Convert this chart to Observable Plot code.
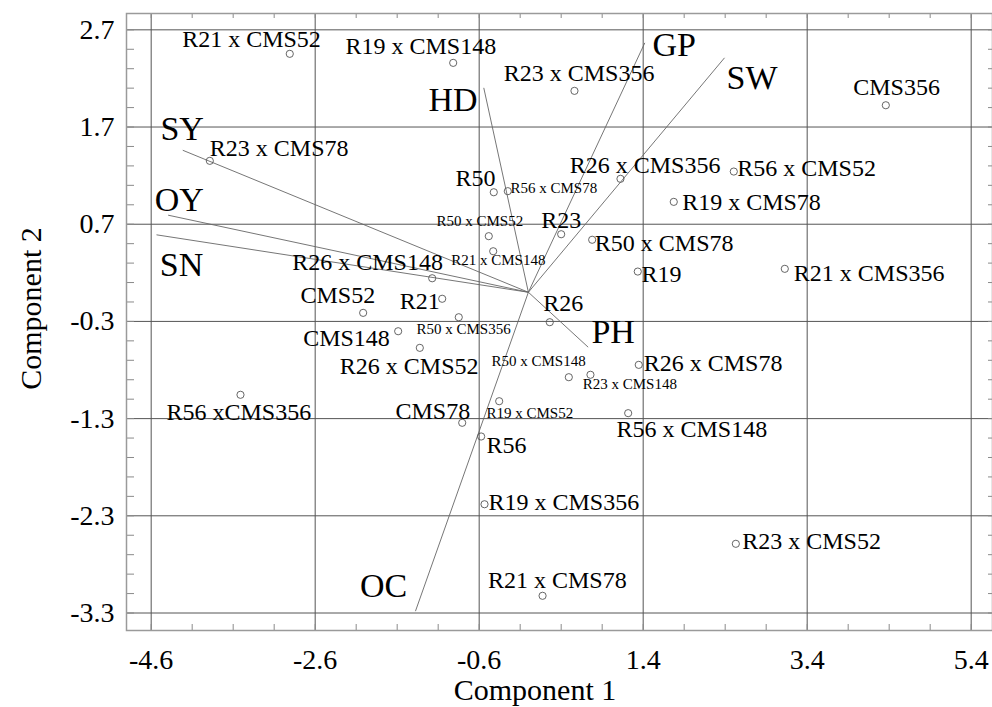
<!DOCTYPE html>
<html><head><meta charset="utf-8">
<script src="https://cdn.jsdelivr.net/npm/d3@7"></script>
<script src="https://cdn.jsdelivr.net/npm/@observablehq/plot@0.6"></script>
<style>html,body{margin:0;padding:0;background:#fff}</style>
</head><body><div id="chart"></div>
<script>
// Genotype scores
const genotypes = ["R21 x CMS52","R19 x CMS148","R23 x CMS356","CMS356","R23 x CMS78","R50","R56 x CMS78","R50 x CMS52","R21 x CMS148","R23","R26 x CMS356","R56 x CMS52","R19 x CMS78","R50 x CMS78","R19","R21 x CMS356","R26 x CMS148","R21","CMS52","CMS148","R50 x CMS356","R26","R26 x CMS52","R50 x CMS148","R23 x CMS148","R26 x CMS78","R19 x CMS52","R56 x CMS148","CMS78","R56","R19 x CMS356","R56 xCMS356","R23 x CMS52","R21 x CMS78"];
const pc1 = [-2.910,-0.917,0.562,4.359,-3.885,-0.422,-0.251,-0.483,-0.429,0.400,1.123,2.505,1.773,0.778,1.334,3.127,-1.173,-1.051,-2.015,-1.588,-0.849,0.261,-1.324,0.493,0.757,1.346,-0.356,1.217,-0.807,-0.576,-0.535,-3.511,2.530,0.173];
const pc2 = [2.453,2.360,2.072,1.924,1.352,1.029,1.040,0.577,0.422,0.597,1.167,1.242,0.930,0.540,0.213,0.241,0.144,-0.067,-0.212,-0.401,-0.257,-0.308,-0.572,-0.874,-0.849,-0.747,-1.121,-1.244,-1.343,-1.484,-2.181,-1.055,-2.588,-3.123];

// Trait loading vectors
const traits = ["SY","OY","SN","HD","GP","SW","PH","OC"];
const traitPc1 = [-4.215,-4.393,-4.535,-0.544,1.420,2.392,0.729,-1.377];
const traitPc2 = [1.461,0.793,0.591,2.103,2.566,2.412,-0.565,-3.281];

// Tick labels
const xTicks = [-4.6,-2.6,-0.6,1.4,3.4,5.4];
const yTicks = [2.7,1.7,0.7,-0.3,-1.3,-2.3,-3.3];
const xTitle = "Component 1";
const yTitle = "Component 2";

// Label placement (pixel offsets from the point, font size)
const labelLayout = {
  "R21 x CMS52": [-107.6,-6.6,24], "R19 x CMS148": [-107.7,-9,24], "R23 x CMS356": [-70.7,-10.3,24],
  "CMS356": [-32.6,-10.7,24], "R23 x CMS78": [0,-4.6,24], "R50": [-38.3,-6,24],
  "R56 x CMS78": [2.7,2,15], "R50 x CMS52": [-52.3,-9.7,15], "R21 x CMS148": [-42,13.3,15],
  "R23": [-20,-6.4,24], "R26 x CMS356": [-50.7,-6,24], "R56 x CMS52": [3.4,4.7,24],
  "R19 x CMS78": [8.4,7.7,24], "R50 x CMS78": [2.6,11.4,24], "R19": [3.7,10.7,24],
  "R21 x CMS356": [9,11.7,24], "R26 x CMS148": [-140,-8.4,24], "R21": [-42.4,10,24],
  "CMS52": [-62.7,-10,24], "CMS148": [-95,15,24], "R50 x CMS356": [-42.3,16.6,15],
  "R26": [-6.6,-11,24], "R26 x CMS52": [-80,26,24], "R50 x CMS148": [-77.3,-11,15],
  "R23 x CMS148": [-7.7,14,15], "R26 x CMS78": [5,6.4,24], "R19 x CMS52": [-12.7,16.6,15],
  "R56 x CMS148": [-11.7,24,24], "CMS78": [-66.7,-4,24], "R56": [5.3,16.3,24],
  "R19 x CMS356": [4,5.6,24], "R56 xCMS356": [-74,25.7,24], "R23 x CMS52": [6.4,5,24],
  "R21 x CMS78": [-54.6,-8,24]
};
const traitLayout = {
  "SY": [-22.3,-10.4], "OY": [-13.4,-4], "SN": [3.3,41], "HD": [-55.3,22.7],
  "GP": [7.7,13.4], "SW": [2,30.7], "PH": [3.3,-4.4], "OC": [-55.4,-13.7]
};

const points = genotypes.map((name, i) => ({name, x: pc1[i], y: pc2[i]}));
const vectors = traits.map((name, i) => ({name, x: traitPc1[i], y: traitPc2[i]}));

const xMinor = d3.range(-4.6, 5.66, 0.5).map(v => +v.toFixed(2));
const yMinor = d3.range(2.7, -3.49, -0.2).map(v => +v.toFixed(2));
const fmt = d => d.toFixed(1);
const tickColor = "#8a8a8a";
const font = "Liberation Serif";

const marks = [
  Plot.gridX({ticks: xTicks, stroke: "#555", strokeOpacity: 1, strokeWidth: 1}),
  Plot.gridY({ticks: yTicks, stroke: "#555", strokeOpacity: 1, strokeWidth: 1}),
  Plot.axisX({anchor: "bottom", ticks: xMinor, tickSize: -6, fill: "none", stroke: tickColor, label: null}),
  Plot.axisX({anchor: "top", ticks: xMinor, tickSize: -4, fill: "none", stroke: tickColor, label: null}),
  Plot.axisY({anchor: "left", ticks: yMinor, tickSize: -8, fill: "none", stroke: tickColor, label: null}),
  Plot.axisY({anchor: "right", ticks: yMinor, tickSize: -5, fill: "none", stroke: tickColor, label: null}),
  Plot.axisX({anchor: "bottom", ticks: xTicks, tickSize: 0, tickPadding: 19, fontSize: 28, tickFormat: fmt, label: null, fill: "black"}),
  Plot.axisY({anchor: "left", ticks: yTicks, tickSize: 0, tickPadding: 12, fontSize: 28, tickFormat: fmt, label: null, fill: "black"}),
  Plot.frame({stroke: "#9a9a9a", strokeWidth: 1.5}),
  Plot.link(vectors, {x1: () => 0, y1: () => 0, x2: "x", y2: "y", stroke: "#666", strokeWidth: 0.9}),
  Plot.dot(points, {x: "x", y: "y", r: 3.6, stroke: "#555", strokeWidth: 0.9, fill: "none"}),
  ...points.map(p => {
    const [dx, dy, size] = labelLayout[p.name];
    return Plot.text([p], {x: "x", y: "y", text: "name", dx, dy, fontSize: size, textAnchor: "start", lineAnchor: "bottom", fill: "black"});
  }),
  ...vectors.map(v => {
    const [dx, dy] = traitLayout[v.name];
    return Plot.text([v], {x: "x", y: "y", text: "name", dx, dy, fontSize: 34, textAnchor: "start", lineAnchor: "bottom", fill: "black"});
  }),
  Plot.text([xTitle], {frameAnchor: "bottom", text: d => d, dx: -24.5, dy: 69, fontSize: 30, lineAnchor: "bottom", textAnchor: "middle", fill: "black"}),
  Plot.text([yTitle], {frameAnchor: "left", text: d => d, dx: -86, dy: -13.5, rotate: -90, fontSize: 30, lineAnchor: "bottom", textAnchor: "middle", fill: "black"})
];

const chart = Plot.plot({
  width: 992,
  height: 707,
  marginLeft: 126,
  marginRight: 0,
  marginTop: 13,
  marginBottom: 77,
  x: {domain: [-4.901, 5.660]},
  y: {domain: [-3.480, 2.868]},
  style: {fontFamily: font, background: "white", color: "black", overflow: "visible"},
  marks
});
document.getElementById("chart").appendChild(chart);
</script>
</body></html>
